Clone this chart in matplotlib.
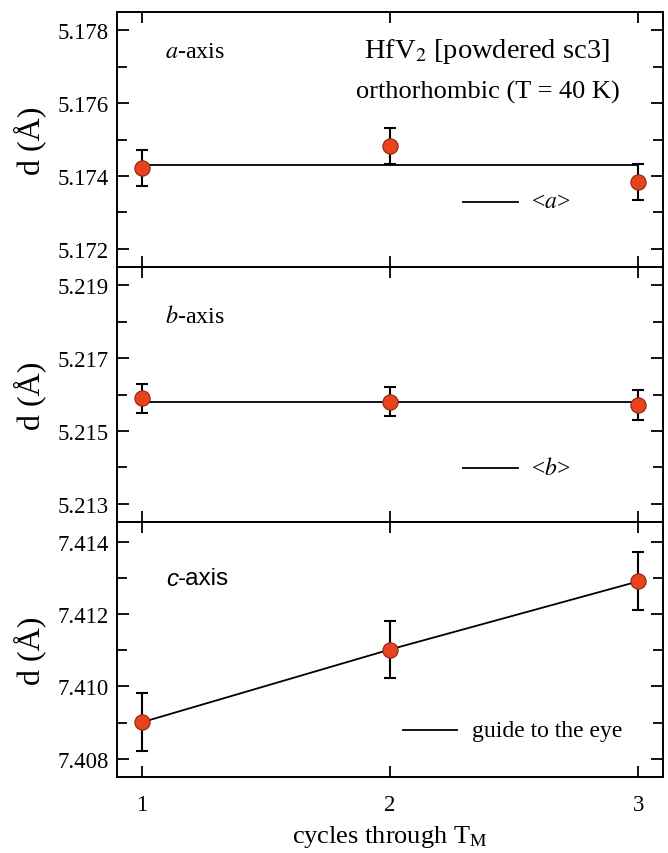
import numpy as np
import matplotlib
matplotlib.use("Agg")
import matplotlib.pyplot as plt
from matplotlib.ticker import MultipleLocator, FormatStrFormatter

plt.rcParams['font.family'] = ['Liberation Serif', 'DejaVu Serif']
plt.rcParams['mathtext.fontset'] = 'stix'

cycles = [1, 2, 3]
a_vals = [5.17422, 5.17482, 5.17384]
a_err = [0.0005, 0.0005, 0.0005]
b_vals = [5.21590, 5.21580, 5.21571]
b_err = [0.0004, 0.0004, 0.0004]
c_vals = [7.40901, 7.41102, 7.41290]
c_err = [0.0008, 0.0008, 0.0008]

ylims = [(5.1715, 5.1785), (5.2125, 5.2195), (7.4075, 7.41454)]
yticks = [[5.172, 5.174, 5.176, 5.178], [5.213, 5.215, 5.217, 5.219],
          [7.408, 7.410, 7.412, 7.414]]

fig = plt.figure(figsize=(6.68, 8.54), dpi=100)
left, right = 117 / 668, 663 / 668
top, bottom = 1 - 13 / 854, 1 - 778 / 854
h = (top - bottom) / 3
axes = [fig.add_axes([left, top - (i + 1) * h, right - left, h]) for i in range(3)]

face = '#E8431E'
edge = '#8A2A12'

series = [(a_vals, a_err), (b_vals, b_err), (c_vals, c_err)]
for i, ax in enumerate(axes):
    vals, err = series[i]
    if i < 2:
        mean = np.mean(vals)
        ax.plot([cycles[0], cycles[-1]], [mean, mean], color='black', lw=1.3, zorder=2)
    else:
        ax.plot(cycles, vals, color='black', lw=1.3, zorder=2)
    ax.errorbar(cycles, vals, yerr=err, fmt='none', ecolor='black', elinewidth=1.5,
                capsize=4, capthick=1.5, zorder=3)
    ax.plot(cycles, vals, 'o', ms=11, mfc=face, mec=edge, mew=0.8, zorder=4)

    ax.set_xlim(0.9, 3.1)
    ax.set_ylim(*ylims[i])
    ax.set_yticks(yticks[i])
    ax.yaxis.set_minor_locator(MultipleLocator(0.001))
    ax.yaxis.set_major_formatter(FormatStrFormatter('%.3f'))
    ax.set_xticks(cycles)
    ax.tick_params(axis='both', which='both', direction='in', top=True, right=True,
                   width=1.3, labelsize=16.4)
    ax.tick_params(axis='y', which='major', length=8.5, pad=6)
    ax.tick_params(axis='y', which='minor', length=7)
    ax.tick_params(axis='x', which='major', length=8)
    if i < 2:
        ax.tick_params(axis='x', labelbottom=False)
    for s in ax.spines.values():
        s.set_linewidth(1.4)
    ax.set_ylabel('d (Å)', fontsize=23, labelpad=8)

axes[2].set_xticklabels(['1', '2', '3'])
axes[2].tick_params(axis='x', pad=12)
axes[2].set_xlabel('cycles through T$_{\\mathrm{M}}$', fontsize=19, labelpad=6)

# panel annotations
axes[0].text(0.088, 0.846, '$\\mathit{a}$-axis', transform=axes[0].transAxes,
             fontsize=17.4, va='center')
axes[1].text(0.088, 0.808, '$\\mathit{b}$-axis', transform=axes[1].transAxes,
             fontsize=17.4, va='center')
axes[2].text(0.09, 0.78, 'c', transform=axes[2].transAxes, fontsize=17.5,
             va='center', family='Liberation Sans', style='italic')
axes[2].text(0.111, 0.78, '-axis', transform=axes[2].transAxes, fontsize=17.5,
             va='center', family='Liberation Sans')

axes[0].text(0.678, 0.848, 'HfV$_2$ [powdered sc3]', transform=axes[0].transAxes,
             fontsize=20.5, ha='center', va='center')
axes[0].text(0.68, 0.69, 'orthorhombic (T = 40 K)', transform=axes[0].transAxes,
             fontsize=19, ha='center', va='center')

# in-panel keys
def key(ax, x0, x1, y, label, tx):
    ax.plot([x0, x1], [y, y], color='black', lw=1.3, transform=ax.transAxes)
    ax.text(tx, y, label, transform=ax.transAxes, fontsize=17, va='center')

key(axes[0], 0.634, 0.734, 0.255, '<$\\mathit{a}$>', 0.758)
key(axes[1], 0.634, 0.734, 0.213, '<$\\mathit{b}$>', 0.758)
key(axes[2], 0.524, 0.623, 0.184, 'guide to the eye', 0.651)

fig.savefig('out.png', dpi=100)
